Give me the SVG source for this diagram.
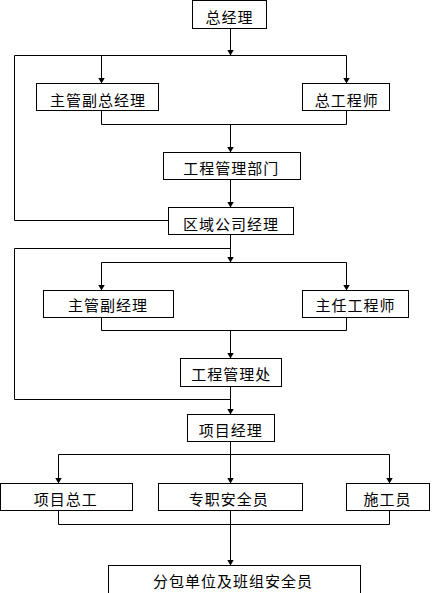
<svg xmlns="http://www.w3.org/2000/svg" width="432" height="593" viewBox="0 0 432 593">
<style>
.box{fill:#fff;stroke:#000;stroke-width:1}
.lbl{font-family:"Noto Sans CJK SC","Noto Sans CJK TC",sans-serif;font-size:15px;letter-spacing:1px;text-anchor:middle;fill:#000}
.ln{fill:none;stroke:#000;stroke-width:1}
.arr{fill:none;stroke:#000;stroke-width:1;marker-end:url(#ah)}
</style>
<defs>
<marker id="ah" markerUnits="userSpaceOnUse" viewBox="0 0 6 7" refX="6" refY="3.5" markerWidth="6" markerHeight="7" orient="auto">
<path d="M0,0 L6,3.5 L0,7 z" fill="#000"/>
</marker>
</defs>
<rect width="432" height="593" fill="#fff"/>
<g id="connectors">
<path class="arr" d="M230.5,28.5 V55.5"/>
<path class="ln" d="M14.5,55.5 H346.5"/>
<path class="arr" d="M101.5,55.5 V83.5"/>
<path class="arr" d="M346.5,55.5 V83.5"/>
<path class="ln" d="M14.5,55.5 V220.5 H168.5"/>
<path class="ln" d="M101.5,110.5 V124.5 H346.5 V110.5"/>
<path class="arr" d="M230.5,124.5 V152.5"/>
<path class="arr" d="M230.5,179.5 V207.5"/>
<path class="arr" d="M230.5,234.5 V262.5"/>
<path class="ln" d="M230.5,248.5 H14.5 V399.5 H230.5"/>
<path class="ln" d="M101.5,262.5 H346.5"/>
<path class="arr" d="M101.5,262.5 V290.5"/>
<path class="arr" d="M346.5,262.5 V290.5"/>
<path class="ln" d="M101.5,317.5 V330.5 H346.5 V317.5"/>
<path class="arr" d="M230.5,330.5 V358.5"/>
<path class="arr" d="M230.5,386.5 V414.5"/>
<path class="arr" d="M230.5,441.5 V483.5"/>
<path class="ln" d="M58.5,454.5 H389.5"/>
<path class="arr" d="M58.5,454.5 V483.5"/>
<path class="arr" d="M389.5,454.5 V483.5"/>
<path class="ln" d="M58.5,510.5 V524.5 H389.5 V510.5"/>
<path class="arr" d="M230.5,510.5 V565.5"/>
</g>
<g id="n1"><rect class="box" x="192.5" y="0.5" width="74" height="28"/><text class="lbl" x="229.5" y="23">总经理</text></g>
<g id="n2"><rect class="box" x="36.5" y="83.5" width="122" height="27"/><text class="lbl" x="98" y="106">主管副总经理</text></g>
<g id="n3"><rect class="box" x="302.5" y="83.5" width="87" height="27"/><text class="lbl" x="346.8" y="106">总工程师</text></g>
<g id="n4"><rect class="box" x="163.5" y="152.5" width="137" height="27"/><text class="lbl" x="231.3" y="174">工程管理部门</text></g>
<g id="n5"><rect class="box" x="168.5" y="207.5" width="125" height="27"/><text class="lbl" x="231" y="229.5">区域公司经理</text></g>
<g id="n6"><rect class="box" x="43.5" y="290.5" width="130" height="27"/><text class="lbl" x="108" y="311.3">主管副经理</text></g>
<g id="n7"><rect class="box" x="302.5" y="290.5" width="106" height="27"/><text class="lbl" x="355.5" y="311.3">主任工程师</text></g>
<g id="n8"><rect class="box" x="180.5" y="358.5" width="101" height="28"/><text class="lbl" x="231.2" y="380">工程管理处</text></g>
<g id="n9"><rect class="box" x="187.5" y="414.5" width="87" height="27"/><text class="lbl" x="230.8" y="435.5">项目经理</text></g>
<g id="n10"><rect class="box" x="0.5" y="483.5" width="132" height="27"/><text class="lbl" x="65.8" y="505.2">项目总工</text></g>
<g id="n11"><rect class="box" x="158.5" y="483.5" width="144" height="27"/><text class="lbl" x="228.8" y="505.2">专职安全员</text></g>
<g id="n12"><rect class="box" x="346.5" y="483.5" width="83" height="27"/><text class="lbl" x="387.5" y="505.2">施工员</text></g>
<g id="n13"><rect class="box" x="108.5" y="565.5" width="252" height="40"/><text class="lbl" x="233" y="587">分包单位及班组安全员</text></g>
</svg>
